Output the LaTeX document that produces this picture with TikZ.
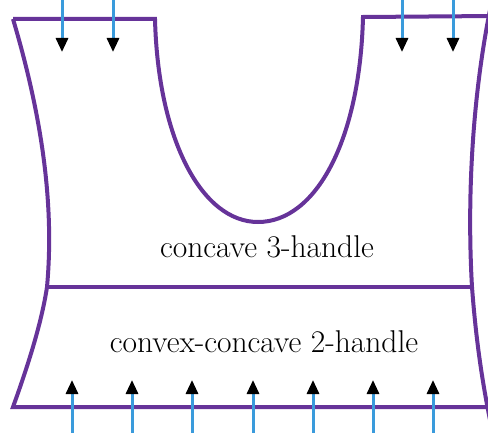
\documentclass[tikz,border=0pt]{standalone}
\usetikzlibrary{arrows.meta}
\definecolor{hpurple}{HTML}{663399}
\definecolor{hblue}{HTML}{3A9BDC}
\tikzset{
  outline/.style={draw=hpurple, line width=4pt, line join=miter},
  flow/.style={draw=hblue, line width=3pt, -{Triangle[length=14pt,width=12pt,color=black]}},
  lbl/.style={font=\fontsize{31.5}{36}\selectfont, inner sep=0pt}
}
\begin{document}
\begin{tikzpicture}[x=1pt,y=-1pt]
\useasboundingbox (0,0) rectangle (488,433);
% outline
\draw[outline] (13,19) -- (155,19)
  .. controls (158,140) and (202,222) .. (258,222)
  .. controls (316,222) and (360,140) .. (363,17)
  -- (495,16);
\draw[outline] (490,10) .. controls (472,100) and (467,200) .. (472,287)
  .. controls (476,340) and (482,380) .. (490,420);
\draw[outline] (495,407) -- (13,407)
  .. controls (30,360) and (42,320) .. (47,287)
  .. controls (55,200) and (40,110) .. (13,19);
\draw[outline] (47,287) -- (472,287);
% labels
\node[lbl] (c3) at (267,247) {concave 3-handle};
\node[lbl] (c2) at (264,342) {convex-concave 2-handle};
% top arrows
\foreach \x [count=\i] in {62,113,402,453}{
  \coordinate (ts\i) at (\x,-2);
  \coordinate (te\i) at (\x,52);
  \draw[flow] (ts\i) -- (te\i);
}
% bottom arrows
\foreach \x [count=\i] in {72,132,192,253,313,373,433}{
  \coordinate (bs\i) at (\x,435);
  \coordinate (be\i) at (\x,380);
  \draw[flow] (bs\i) -- (be\i);
}
\end{tikzpicture}
\end{document}
